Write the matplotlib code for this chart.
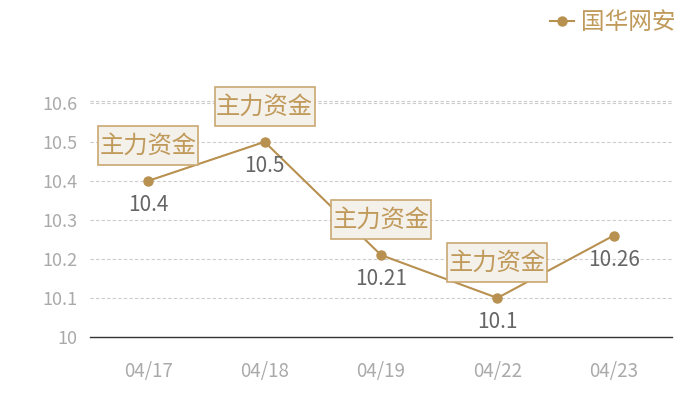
import matplotlib
matplotlib.use("Agg")
import matplotlib.pyplot as plt
from matplotlib.path import Path

plt.rcParams['font.family'] = ['Noto Sans CJK SC', 'DejaVu Sans']

dates = ["04/17", "04/18", "04/19", "04/22", "04/23"]
values = [10.4, 10.5, 10.21, 10.1, 10.26]
value_labels = ["10.4", "10.5", "10.21", "10.1", "10.26"]
flags = ["主力资金", "主力资金", "主力资金", "主力资金", None]
series_name = "国华网安"
yticks = [10, 10.1, 10.2, 10.3, 10.4, 10.5, 10.6]
ytick_labels = ["10", "10.1", "10.2", "10.3", "10.4", "10.5", "10.6"]

line_color = "#b8904f"
flag_text = "#c09a5b"
flag_face = "#f4f0ea"
flag_edge = "#c9a872"


def flag_box(x0, y0, width, height, mutation_size):
    px = 0.06 * mutation_size
    py = 0.27 * mutation_size
    x0 -= px
    y0 -= py
    x1 = x0 + width + 2 * px
    y1 = y0 + height + 2 * py
    return Path([(x0, y0), (x1, y0), (x1, y1), (x0, y1), (x0, y0)], closed=True)


fig = plt.figure(figsize=(7, 4), dpi=100)
ax = fig.add_axes([90/700, 1-337/400, 582/700, (337-100.5)/400])

x = list(range(len(dates)))
ax.plot(x, values, color=line_color, lw=1.5, marker='o', markersize=6.5,
        label=series_name, zorder=3)

ax.set_xlim(-0.5, len(dates)-0.5)
ymax = 10.606
ax.set_ylim(10, ymax)
ax.set_yticks(yticks)
ax.set_yticklabels(ytick_labels)
ax.set_xticks(x)
ax.set_xticklabels(dates)
ax.tick_params(axis='both', length=0, colors='#aaaaaa')
ax.tick_params(axis='x', pad=17, labelsize=13.5)
ax.tick_params(axis='y', pad=9, labelsize=13)
for s in ['top', 'left', 'right']:
    ax.spines[s].set_visible(False)
ax.spines['bottom'].set_color('#333333')
ax.spines['bottom'].set_linewidth(1)
for yt in yticks[1:]:
    ax.axhline(yt, color='#cccccc', lw=0.8, ls=(0, (3, 2)), zorder=1)
ax.axhline(ymax, color='#cccccc', lw=0.8, ls=(0, (3, 2)), zorder=1, clip_on=False)

for xi, v, lab, fl in zip(x, values, value_labels, flags):
    ax.annotate(lab, (xi, v), xytext=(0, -17.4), textcoords='offset points',
                ha='center', va='center', fontsize=15, color='#666666', zorder=4)
    if fl:
        ax.annotate(fl, (xi, v), xytext=(0, 25.5), textcoords='offset points',
                    ha='center', va='center', fontsize=17.5, color=flag_text,
                    bbox=dict(boxstyle=flag_box, fc=flag_face, ec=flag_edge, lw=1.2),
                    zorder=5)

leg = fig.legend(loc='upper right', bbox_to_anchor=(0.995, 1.025), frameon=False,
                 fontsize=17, handlelength=1.0, handletextpad=0.3)
for t in leg.get_texts():
    t.set_color(flag_text)

fig.savefig("out.png", dpi=100)
